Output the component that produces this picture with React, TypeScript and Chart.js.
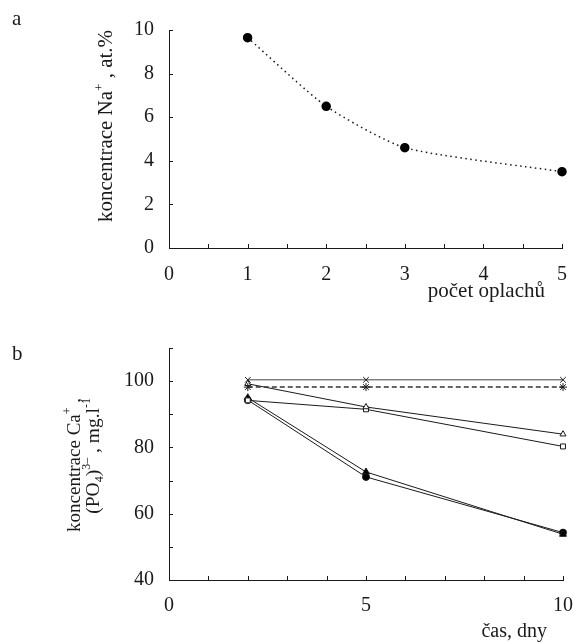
import { useEffect, useRef } from "react";
import { Chart, registerables } from "chart.js";
Chart.register(...registerables);

const FONT = '"Liberation Serif", "Times New Roman", serif';
const INK = "#1a1a1a";

// Panel a
const rinses = [1, 2, 3, 5];
const naConcentration = [9.65, 6.5, 4.6, 3.5];
const rinseTickLabels = [0, 1, 2, 3, 4, 5];
const naTickLabels = [0, 2, 4, 6, 8, 10];

// Panel b
const days = [2, 5, 10];
const seriesCross = [100.4, 100.4, 100.4];
const seriesStar = [98.2, 98.2, 98.2];
const seriesOpenTriangle = [99.2, 92.2, 84.0];
const seriesOpenSquare = [94.2, 91.5, 80.3];
const seriesFilledTriangle = [95.0, 72.6, 53.8];
const seriesFilledCircle = [94.3, 71.1, 54.3];
const dayTickLabels = [0, 5, 10];
const concTickLabels = [40, 60, 80, 100];

type Seg = { t: string; k?: "sup" | "sub" };

function drawRich(
  ctx: CanvasRenderingContext2D,
  segs: Seg[],
  x: number,
  y: number,
  size: number,
  rotate: boolean,
  align: "start" | "end" | "center"
) {
  const fontFor = (s: Seg) => `${s.k ? Math.round(size * 0.62) : size}px ${FONT}`;
  let total = 0;
  const widths = segs.map((s) => {
    ctx.font = fontFor(s);
    const w = ctx.measureText(s.t).width;
    total += w;
    return w;
  });
  let cx = align === "start" ? 0 : align === "end" ? -total : -total / 2;
  ctx.save();
  ctx.translate(x, y);
  if (rotate) ctx.rotate(-Math.PI / 2);
  ctx.fillStyle = INK;
  ctx.textAlign = "left";
  ctx.textBaseline = "alphabetic";
  segs.forEach((s, i) => {
    ctx.font = fontFor(s);
    const dy = s.k === "sup" ? -size * 0.45 : s.k === "sub" ? size * 0.22 : 0;
    ctx.fillText(s.t, cx, dy);
    cx += widths[i];
  });
  ctx.restore();
}

function inwardTicks(chart: any, len: number) {
  const ctx = chart.ctx as CanvasRenderingContext2D;
  const xs = chart.scales.x;
  const ys = chart.scales.y;
  const area = chart.chartArea;
  ctx.save();
  ctx.strokeStyle = INK;
  ctx.lineWidth = 1;
  ctx.beginPath();
  xs.ticks.forEach((t: any) => {
    const px = Math.round(xs.getPixelForValue(t.value)) + 0.5;
    ctx.moveTo(px, area.bottom);
    ctx.lineTo(px, area.bottom - len);
  });
  ys.ticks.forEach((t: any) => {
    const py = Math.round(ys.getPixelForValue(t.value)) + 0.5;
    ctx.moveTo(area.left, py);
    ctx.lineTo(area.left + len, py);
  });
  ctx.stroke();
  ctx.restore();
}

const tickFont = { family: FONT, size: 20 };

const fitX = (h: number) => (s: any) => {
  s.height = h;
  s.paddingLeft = 0;
  s.paddingRight = 0;
};
const fitY = (w: number) => (s: any) => {
  s.width = w;
  s.paddingTop = 0;
  s.paddingBottom = 0;
};

export default function App() {
  const topRef = useRef<HTMLCanvasElement>(null);
  const botRef = useRef<HTMLCanvasElement>(null);

  useEffect(() => {
    const topDecor = {
      id: "topDecor",
      afterDraw(chart: any) {
        const ctx = chart.ctx;
        inwardTicks(chart, 4);
        drawRich(ctx, [{ t: "a" }], 12, 25, 21, false, "start");
        drawRich(ctx, [{ t: "počet oplachů" }], 545, 297, 21, false, "end");
        drawRich(
          ctx,
          [{ t: "koncentrace Na" }, { t: "+", k: "sup" }, { t: " , at.%" }],
          112,
          126,
          21,
          true,
          "center"
        );
      },
    };
    const botDecor = {
      id: "botDecor",
      afterDraw(chart: any) {
        const ctx = chart.ctx;
        inwardTicks(chart, 4);
        drawRich(ctx, [{ t: "b" }], 12, 30, 21, false, "start");
        drawRich(ctx, [{ t: "čas, dny" }], 547, 307, 20, false, "end");
        drawRich(
          ctx,
          [{ t: "koncentrace Ca" }, { t: "+", k: "sup" }, { t: " ," }],
          80,
          68,
          19,
          true,
          "end"
        );
        drawRich(
          ctx,
          [
            { t: "(PO" },
            { t: "4", k: "sub" },
            { t: ")" },
            { t: "3–", k: "sup" },
            { t: " , mg.l" },
            { t: "-1", k: "sup" },
          ],
          99,
          68,
          19.5,
          true,
          "end"
        );
      },
    };

    const top = new Chart(topRef.current!, {
      type: "line",
      data: {
        datasets: [
          {
            data: rinses.map((x, i) => ({ x, y: naConcentration[i] })),
            borderColor: INK,
            borderWidth: 1.5,
            borderDash: [1.5, 3.5],
            pointRadius: 4,
            pointBackgroundColor: "#000",
            pointBorderColor: "#000",
            tension: 0.2,
            clip: false,
          } as any,
        ],
      },
      options: {
        responsive: false,
        animation: false,
        layout: { padding: { top: 30, right: 11, left: 0, bottom: 0 } },
        plugins: { legend: { display: false }, tooltip: { enabled: false } },
        scales: {
          x: {
            type: "linear",
            min: 0,
            max: 5,
            ticks: {
              stepSize: 0.5,
              autoSkip: false,
              maxRotation: 0,
              padding: 15,
              font: tickFont,
              color: INK,
              callback: (v: any) => (rinseTickLabels.includes(Number(v)) ? String(v) : ""),
            },
            grid: { display: false, drawTicks: false },
            border: { display: true, color: INK, width: 1 },
            afterFit: fitX(72),
          },
          y: {
            type: "linear",
            min: 0,
            max: 10,
            ticks: {
              stepSize: 2,
              padding: 15,
              font: tickFont,
              color: INK,
              callback: (v: any) => (naTickLabels.includes(Number(v)) ? String(v) : ""),
            },
            grid: { display: false, drawTicks: false },
            border: { display: true, color: INK, width: 1 },
            afterFit: fitY(169),
          },
        },
      },
      plugins: [topDecor],
    });

    const mk = (vals: number[], extra: any) => ({
      data: days.map((x, i) => ({ x, y: vals[i] })),
      borderColor: INK,
      borderWidth: 1,
      pointRadius: 3.5,
      pointBorderColor: INK,
      pointBorderWidth: 1,
      tension: 0,
      clip: false,
      ...extra,
    });

    const bot = new Chart(botRef.current!, {
      type: "line",
      data: {
        datasets: [
          mk(seriesCross, { pointStyle: "crossRot", pointRadius: 4, borderColor: "#444" }),
          mk(seriesStar, { pointStyle: "star", pointRadius: 4, borderDash: [5, 3], borderWidth: 1.5, borderColor: "#333" }),
          mk(seriesOpenTriangle, { pointStyle: "triangle", pointBackgroundColor: "#fff" }),
          mk(seriesOpenSquare, { pointStyle: "rect", pointBackgroundColor: "#fff", pointRadius: 3.5 }),
          mk(seriesFilledTriangle, { pointStyle: "triangle", pointBackgroundColor: "#000", pointRadius: 4 }),
          mk(seriesFilledCircle, { pointStyle: "circle", pointBackgroundColor: "#000", pointRadius: 3.5 }),
        ] as any,
      },
      options: {
        responsive: false,
        animation: false,
        layout: { padding: { top: 18, right: 10, left: 0, bottom: 0 } },
        plugins: { legend: { display: false }, tooltip: { enabled: false } },
        scales: {
          x: {
            type: "linear",
            min: 0,
            max: 10,
            ticks: {
              stepSize: 1,
              autoSkip: false,
              maxRotation: 0,
              padding: 14,
              font: tickFont,
              color: INK,
              callback: (v: any) => (dayTickLabels.includes(Number(v)) ? String(v) : ""),
            },
            grid: { display: false, drawTicks: false },
            border: { display: true, color: INK, width: 1 },
            afterFit: fitX(62),
          },
          y: {
            type: "linear",
            min: 40,
            max: 110,
            ticks: {
              stepSize: 10,
              padding: 15,
              font: tickFont,
              color: INK,
              callback: (v: any) => (concTickLabels.includes(Number(v)) ? String(v) : ""),
            },
            grid: { display: false, drawTicks: false },
            border: { display: true, color: INK, width: 1 },
            afterFit: fitY(169),
          },
        },
      },
      plugins: [botDecor],
    });

    return () => {
      top.destroy();
      bot.destroy();
    };
  }, []);

  return (
    <div style={{ position: "absolute", left: 0, top: 0, width: 573, height: 642, background: "#fff" }}>
      <canvas ref={topRef} width={573} height={320} style={{ position: "absolute", left: 0, top: 0 }} />
      <canvas ref={botRef} width={573} height={312} style={{ position: "absolute", left: 0, top: 330 }} />
    </div>
  );
}
